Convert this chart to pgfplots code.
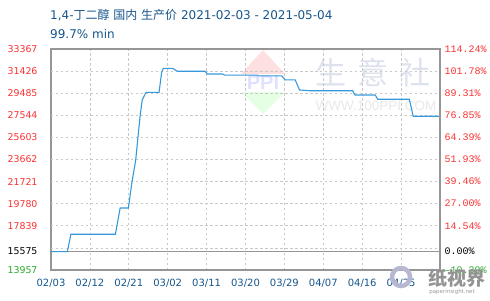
\documentclass[border=0pt]{standalone}
\usepackage{pgfplots}
\pgfplotsset{compat=1.18}
\usepackage{fontspec}
\setmainfont{DejaVu Sans}
\newfontfamily\cjk{Noto Sans CJK SC}
\newfontfamily\mono{Liberation Mono}
\newfontfamily\arial{Liberation Sans}

\definecolor{titleblue}{RGB}{22,86,140}
\definecolor{lineblue}{RGB}{52,152,219}
\definecolor{lred}{RGB}{250,50,50}
\definecolor{lgreen}{RGB}{40,170,40}
\definecolor{gridgray}{RGB}{200,200,200}
\definecolor{framegray}{RGB}{150,150,150}
\definecolor{wmark}{RGB}{222,226,236}

\pgfplotstableread{
day price
0 15575
3.8 15575
4.6 17100
14.9 17100
16 19400
17.9 19400
18.7 21600
19.6 23620
20.1 25550
20.6 27420
21.1 28890
22 29560
25 29560
25.6 31320
26 31670
28.2 31670
28.5 31580
29 31460
29.4 31410
35.6 31410
36.2 31170
39.7 31170
40.2 31070
47.7 31070
48 31000
53.4 31000
54.2 30650
56.5 30650
57.5 29770
60 29700
69.8 29700
70.3 29330
75 29330
75.6 28950
82.9 28950
83.8 27460
90 27460
}\pricedata

\begin{document}
\begin{tikzpicture}[x=1bp,y=1bp]
\useasboundingbox (0,0) rectangle (490,300);

% background watermarks
\fill[red!12] (263,250) -- (285,226) -- (241,226) -- cycle;
\fill[green!10] (263,186) -- (285,208) -- (241,208) -- cycle;
\node[text=blue!12, font=\arial\bfseries\fontsize{20bp}{20bp}\selectfont] at (263,217) {PPI};
\node[text=wmark, font=\cjk\fontsize{31bp}{31bp}\selectfont] at (373,227) {生\hspace{11bp}意\hspace{11bp}社};
\node[text=black!9, font=\arial\fontsize{13.5bp}{14bp}\selectfont] at (376,194) {WWW.100PPI.COM};

% title
\node[anchor=west, inner sep=0, text=titleblue, font=\fontsize{12bp}{14bp}\selectfont] at (50,285)
  {1,4-{\cjk 丁二醇} {\cjk 国内} {\cjk 生产价} 2021-02-03 - 2021-05-04};
\node[anchor=west, inner sep=0, text=titleblue, font=\fontsize{12bp}{14bp}\selectfont] at (50,266)
  {99.7\% min};

\begin{axis}[
  at={(51bp,30bp)}, anchor=south west,
  scale only axis, width=389bp, height=221bp,
  xmin=0, xmax=90, ymin=13957, ymax=33367,
  scaled y ticks=false,
  axis line style={framegray, line width=1.1pt},
  xtick={0,9,...,81},
  xticklabels={02/03,02/12,02/21,03/02,03/11,03/20,03/29,04/07,04/16,04/25},
  xmajorgrids,
  major grid style={gridgray, dash pattern=on 2.5pt off 2.5pt, line width=0.8pt},
  ytick={13957,15575,17839,19780,21721,23662,25603,27544,29485,31426,33367},
  yticklabels={\textcolor{lgreen}{13957},\textcolor{black}{15575},17839,19780,21721,23662,25603,27544,29485,31426,33367},
  extra y ticks={15898,17839,19780,21721,23662,25603,27544,29485,31426},
  extra y tick labels={},
  extra y tick style={ymajorgrids=true, tick style={draw=none}},
  tick style={draw=none},
  /pgf/number format/assume math mode=true,
  yticklabel style={text=lred, font=\fontsize{9.4bp}{11bp}\selectfont, xshift=-10bp},
  xticklabel style={text=titleblue, font=\fontsize{10bp}{12bp}\selectfont, yshift=-6bp},
  clip=false,
]
\draw[framegray, line width=0.9pt] (axis cs:0,15575) -- (axis cs:90,15575);
\addplot[lineblue, line width=1.1pt, mark=none] table[x=day, y=price] {\pricedata};
\end{axis}

\begin{axis}[
  at={(51bp,30bp)}, anchor=south west,
  scale only axis, width=389bp, height=221bp,
  xmin=0, xmax=90, ymin=13957, ymax=33367,
  scaled y ticks=false,
  axis x line=none, axis y line*=right,
  axis line style={framegray, line width=1.1pt},
  ytick={13957,15575,17839,19780,21721,23662,25603,27544,29485,31426,33367},
  yticklabels={\textcolor{lgreen}{-10.39\%},\textcolor{black}{0.00\%},14.54\%,27.00\%,39.46\%,51.93\%,64.39\%,76.85\%,89.31\%,101.78\%,114.24\%},
  tick style={draw=none},
  /pgf/number format/assume math mode=true,
  yticklabel style={text=lred, font=\mono\fontsize{10bp}{12bp}\selectfont, anchor=west, xshift=1bp},
]
\end{axis}

% corner logo
\draw[blue!25!gray!45, line width=4.5bp] (401,23) circle (9);
\node[text=gray!85, font=\cjk\bfseries\fontsize{19bp}{20bp}\selectfont] at (457,22) {纸视界};
\node[text=gray!80, font=\fontsize{5.5bp}{6bp}\selectfont] at (452,8) {paperinsight.net};
\end{tikzpicture}
\end{document}
